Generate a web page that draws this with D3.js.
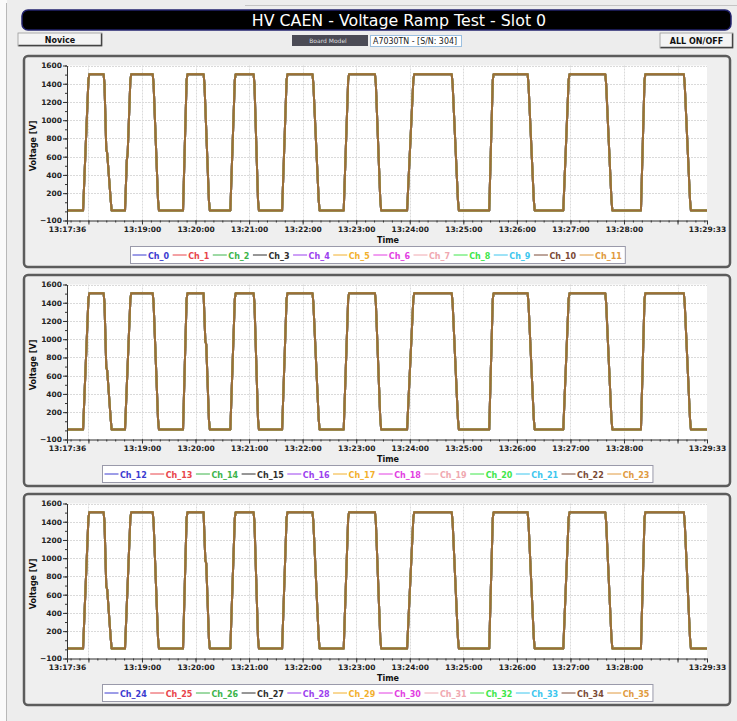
<!DOCTYPE html>
<html>
<head>
<meta charset="utf-8">
<script src="https://cdn.jsdelivr.net/npm/d3@7"></script>
<style>
  body { margin: 0; background: #fff; }
  svg { display: block; font-family: "DejaVu Sans", sans-serif; }
</style>
</head>
<body>
<div id="chart"></div>
<script>
// ---- data ----
const titleText = "HV CAEN - Voltage Ramp Test - Slot 0";
const boardModel = "A7030TN - [S/N: 304]";

const channelsA = ["Ch_0", "Ch_1", "Ch_2", "Ch_3", "Ch_4", "Ch_5", "Ch_6", "Ch_7", "Ch_8", "Ch_9", "Ch_10", "Ch_11"];
const channelsB = ["Ch_12", "Ch_13", "Ch_14", "Ch_15", "Ch_16", "Ch_17", "Ch_18", "Ch_19", "Ch_20", "Ch_21", "Ch_22", "Ch_23"];
const channelsC = ["Ch_24", "Ch_25", "Ch_26", "Ch_27", "Ch_28", "Ch_29", "Ch_30", "Ch_31", "Ch_32", "Ch_33", "Ch_34", "Ch_35"];
const channelColors = ["#3b3bd0", "#e8444a", "#3cb44b", "#2e2e2e", "#9b40ee", "#f2b02c",
                       "#e23ee2", "#f0a8b0", "#3ee64a", "#3cc6ee", "#7a4a36", "#e09a40"];

// panel 1 waveform (all channels overlap)
const timesA = ["13:17:36", "13:17:54", "13:18:00", "13:18:01", "13:18:17", "13:18:18", "13:18:20", "13:18:21", "13:18:25", "13:18:26",
  "13:18:41", "13:18:43", "13:18:44", "13:18:47", "13:18:48", "13:19:12", "13:19:13", "13:19:18", "13:19:19",
  "13:19:46", "13:19:50", "13:19:51", "13:20:09", "13:20:10", "13:20:15", "13:20:16",
  "13:20:39", "13:20:44", "13:20:45", "13:21:05", "13:21:06", "13:21:10", "13:21:11",
  "13:21:37", "13:21:42", "13:21:43", "13:22:11", "13:22:12", "13:22:18", "13:22:19",
  "13:22:46", "13:22:51", "13:22:52", "13:23:21", "13:23:22", "13:23:27", "13:23:28",
  "13:23:57", "13:24:04", "13:24:05", "13:24:47", "13:24:48", "13:24:54", "13:24:55",
  "13:25:29", "13:25:33", "13:25:34", "13:26:12", "13:26:13", "13:26:19", "13:26:20",
  "13:26:52", "13:26:58", "13:26:59", "13:27:39", "13:27:40", "13:27:46", "13:27:47",
  "13:28:19", "13:28:23", "13:28:24", "13:29:07", "13:29:08", "13:29:14", "13:29:15", "13:29:33"];
const voltsA = [10, 10, 1440, 1505, 1505, 1400, 680, 640, 120, 10,
  10, 560, 640, 1440, 1505, 1505, 1400, 120, 10,
  10, 1440, 1505, 1505, 1400, 120, 10,
  10, 1440, 1505, 1505, 1400, 120, 10,
  10, 1440, 1505, 1505, 1400, 120, 10,
  10, 1440, 1505, 1505, 1400, 120, 10,
  10, 1440, 1505, 1505, 1400, 120, 10,
  10, 1440, 1505, 1505, 1400, 120, 10,
  10, 1440, 1505, 1505, 1400, 120, 10,
  10, 1440, 1505, 1505, 1400, 120, 10, 10];

// panels 2 and 3 waveform
const timesB = ["13:17:36", "13:17:54", "13:18:00", "13:18:01", "13:18:17", "13:18:18", "13:18:20", "13:18:21", "13:18:25", "13:18:26",
  "13:18:41", "13:18:47", "13:18:48", "13:19:12", "13:19:13", "13:19:18", "13:19:19",
  "13:19:46", "13:19:50", "13:19:51", "13:20:09", "13:20:11", "13:20:12", "13:20:15", "13:20:16",
  "13:20:39", "13:20:44", "13:20:45", "13:21:05", "13:21:06", "13:21:10", "13:21:11",
  "13:21:37", "13:21:42", "13:21:43", "13:22:11", "13:22:12", "13:22:18", "13:22:19",
  "13:22:46", "13:22:51", "13:22:52", "13:23:21", "13:23:22", "13:23:27", "13:23:28",
  "13:23:57", "13:24:04", "13:24:05", "13:24:47", "13:24:48", "13:24:54", "13:24:55",
  "13:25:29", "13:25:33", "13:25:34", "13:26:12", "13:26:13", "13:26:19", "13:26:20",
  "13:26:52", "13:26:58", "13:26:59", "13:27:39", "13:27:40", "13:27:46", "13:27:47",
  "13:28:19", "13:28:23", "13:28:24", "13:29:07", "13:29:08", "13:29:14", "13:29:15", "13:29:33"];
const voltsB = [10, 10, 1440, 1505, 1505, 1400, 690, 660, 120, 10,
  10, 1440, 1505, 1505, 1400, 120, 10,
  10, 1440, 1505, 1505, 975, 945, 120, 10,
  10, 1440, 1505, 1505, 1400, 120, 10,
  10, 1440, 1505, 1505, 1400, 120, 10,
  10, 1440, 1505, 1505, 1400, 120, 10,
  10, 1440, 1505, 1505, 1400, 120, 10,
  10, 1440, 1505, 1505, 1400, 120, 10,
  10, 1440, 1505, 1505, 1400, 120, 10,
  10, 1440, 1505, 1505, 1400, 120, 10, 10];

const yTickValues = [-100, 200, 400, 600, 800, 1000, 1200, 1400, 1600];
const xMajorTicks = ["13:17:36", "13:18:00", "13:19:00", "13:20:00", "13:21:00", "13:22:00", "13:23:00",
  "13:24:00", "13:25:00", "13:26:00", "13:27:00", "13:28:00", "13:29:00", "13:29:33"];
const xLabelled = ["13:17:36", "13:19:00", "13:20:00", "13:21:00", "13:22:00", "13:23:00",
  "13:24:00", "13:25:00", "13:26:00", "13:27:00", "13:28:00", "13:29:33"];

// ---- layout ----
const svgWidth = 737;
const svgHeight = 721;
const panelLeft = 24, panelRight = 730, panelHeight = 211;
const panelTops = [56, 275, 494];
const plotLeft = 67, plotRight = 707;
const plotTopOff = 9.5, plotBottomOff = 164.5;

const svg = d3.select("#chart")
  .append("svg")
  .attr("width", svgWidth)
  .attr("height", svgHeight);

svg.append("rect").attr("width", svgWidth).attr("height", svgHeight).attr("fill", "#fafafa");
svg.append("rect").attr("x", 7).attr("y", 0).attr("width", svgWidth - 7).attr("height", svgHeight).attr("fill", "#ededed");
svg.append("line").attr("x1", 6.5).attr("x2", 6.5).attr("y1", 3).attr("y2", svgHeight)
  .attr("stroke", "#b8b8b8");
svg.append("line").attr("x1", 245).attr("x2", svgWidth).attr("y1", 5.5).attr("y2", 5.5)
  .attr("stroke", "#c4c4c4");

// header bar
svg.append("rect")
  .attr("x", 22).attr("y", 10).attr("width", 709).attr("height", 20).attr("rx", 6)
  .attr("fill", "#000").attr("stroke", "#23236e").attr("stroke-width", 1.5);
svg.append("text")
  .attr("x", 399).attr("y", 25.5)
  .attr("text-anchor", "middle")
  .attr("fill", "#fff")
  .style("font-size", "15.8px")
  .text(titleText);

// buttons
function button(x, y, w, h, label) {
  const g = svg.append("g");
  g.append("rect").attr("x", x).attr("y", y).attr("width", w).attr("height", h)
    .attr("fill", "#f4f4f4").attr("stroke", "#9a9a9a").attr("stroke-width", 0.8);
  g.append("path")
    .attr("d", `M${x + 0.5},${y + h - 0.5}H${x + w - 0.5}V${y + 0.5}`)
    .attr("fill", "none").attr("stroke", "#444").attr("stroke-width", 1.4);
  g.append("text").attr("x", x + w / 2).attr("y", y + h / 2 + 3)
    .attr("text-anchor", "middle").attr("fill", "#111")
    .style("font-size", "8px").style("font-weight", "bold")
    .text(label);
}
button(18, 33, 84, 13, "Novice");
button(660, 33, 73, 15, "ALL ON/OFF");

svg.append("rect").attr("x", 292).attr("y", 35).attr("width", 76).attr("height", 11)
  .attr("fill", "#4b4b55");
svg.append("text").attr("x", 328).attr("y", 43).attr("text-anchor", "middle")
  .attr("fill", "#ddd").style("font-size", "6px").text("Board Model");
svg.append("rect").attr("x", 370.5).attr("y", 35.5).attr("width", 91).attr("height", 11)
  .attr("fill", "#fff").attr("stroke", "#9cc0e0");
svg.append("text").attr("x", 373).attr("y", 44)
  .attr("fill", "#222").style("font-size", "8.5px")
  .attr("textLength", 84).attr("lengthAdjust", "spacingAndGlyphs")
  .text(boardModel);

// ---- scales ----
function parseTime(s) { return d3.timeParse("%H:%M:%S")(s); }

const x = d3.scaleTime()
  .domain([parseTime("13:17:36"), parseTime("13:29:33")])
  .range([plotLeft, plotRight]);

const lineOrder = [0, 1, 3, 4, 6, 7, 9, 2, 8, 5, 11, 10];
const fmt = d3.timeFormat("%H:%M:%S");

function drawPanel(i, channels, times, volts) {
  const top = panelTops[i];
  const yTop = top + plotTopOff, yBot = top + plotBottomOff;
  const y = d3.scaleLinear().domain([-100, 1600]).range([yBot, yTop]);
  const data = times.map((t, k) => ({ t: parseTime(t), v: volts[k] }));

  const g = svg.append("g");
  g.append("rect")
    .attr("x", panelLeft).attr("y", top).attr("width", panelRight - panelLeft).attr("height", panelHeight)
    .attr("rx", 4)
    .attr("fill", "#efefef").attr("stroke", "#5c5c5c").attr("stroke-width", 2.5);

  g.append("rect")
    .attr("x", plotLeft).attr("y", yTop).attr("width", plotRight - plotLeft).attr("height", yBot - yTop)
    .attr("fill", "#fff");

  // grid
  g.append("g").selectAll("line")
    .data(yTickValues.filter(d => d > 0))
    .join("line")
    .attr("x1", plotLeft).attr("x2", plotRight)
    .attr("y1", d => Math.round(y(d)) + 0.5).attr("y2", d => Math.round(y(d)) + 0.5)
    .attr("stroke", "#dadada").attr("stroke-dasharray", "2,1");
  g.append("g").selectAll("line")
    .data(xMajorTicks.slice(1, -1))
    .join("line")
    .attr("x1", d => Math.round(x(parseTime(d))) + 0.5).attr("x2", d => Math.round(x(parseTime(d))) + 0.5)
    .attr("y1", yTop).attr("y2", yBot)
    .attr("stroke", "#dadada").attr("stroke-dasharray", "2,1");

  // lines
  const clipId = "clip" + i;
  g.append("clipPath").attr("id", clipId)
    .append("rect").attr("x", plotLeft).attr("y", yTop - 2).attr("width", plotRight - plotLeft).attr("height", yBot - yTop + 2);

  const line = d3.line().x(d => x(d.t)).y(d => y(d.v));
  g.append("g").attr("clip-path", `url(#${clipId})`)
    .selectAll("path")
    .data(lineOrder)
    .join("path")
    .attr("d", line(data))
    .attr("fill", "none")
    .attr("stroke", k => channelColors[k])
    .attr("stroke-width", 2)
    .attr("stroke-opacity", 0.62)
    .attr("stroke-linejoin", "round");

  // y axis
  const yMinor = d3.range(-100, 1601, 100);
  g.append("g")
    .attr("transform", `translate(${plotLeft},0)`)
    .call(d3.axisLeft(y).tickValues(yMinor).tickSize(2).tickSizeOuter(0).tickFormat(""))
    .call(a => a.select(".domain").remove())
    .selectAll("line").attr("stroke", "#333");
  const yAx = g.append("g")
    .attr("transform", `translate(${plotLeft},0)`)
    .call(d3.axisLeft(y).tickValues(yTickValues).tickSize(4).tickPadding(1).tickSizeOuter(0)
      .tickFormat(d3.format("d")));
  yAx.select(".domain").attr("stroke", "#333");
  yAx.selectAll("line").attr("stroke", "#333");
  yAx.selectAll("text")
    .attr("fill", "#222")
    .style("font-family", "DejaVu Sans")
    .style("font-size", "7.5px").style("font-weight", "bold");

  // x axis
  const minorTicks = d3.timeSecond.every(10).range(parseTime("13:17:40"), parseTime("13:29:33"));
  g.append("g")
    .attr("transform", `translate(0,${yBot})`)
    .call(d3.axisBottom(x).tickValues(minorTicks).tickSize(2).tickSizeOuter(0).tickFormat(""))
    .call(a => a.select(".domain").remove())
    .selectAll("line").attr("stroke", "#333");
  const xAx = g.append("g")
    .attr("transform", `translate(0,${yBot})`)
    .call(d3.axisBottom(x)
      .tickValues(xMajorTicks.map(parseTime))
      .tickSize(4).tickPadding(2).tickSizeOuter(0)
      .tickFormat(d => xLabelled.includes(fmt(d)) ? fmt(d) : ""));
  xAx.select(".domain").attr("stroke", "#333");
  xAx.selectAll("line").attr("stroke", "#333");
  xAx.selectAll("text")
    .attr("fill", "#222")
    .style("font-family", "DejaVu Sans")
    .style("font-size", "7.5px").style("font-weight", "bold");

  // axis titles
  g.append("text")
    .attr("transform", `translate(36,${(yTop + yBot) / 2 + 3}) rotate(-90)`)
    .attr("text-anchor", "middle")
    .style("font-size", "8px").style("font-weight", "bold").attr("fill", "#111")
    .text("Voltage [V]");
  g.append("text")
    .attr("x", 388).attr("y", yBot + 22)
    .attr("text-anchor", "middle")
    .style("font-size", "8px").style("font-weight", "bold").attr("fill", "#111")
    .text("Time");

  // legend
  const lg = g.append("g");
  const box = lg.append("rect");
  let xpos = 2;
  channels.forEach((name, k) => {
    lg.append("line")
      .attr("x1", xpos).attr("x2", xpos + 14)
      .attr("y1", 8.5).attr("y2", 8.5)
      .attr("stroke", channelColors[k]).attr("stroke-width", 1);
    const t = lg.append("text")
      .attr("x", xpos + 15.5).attr("y", 12)
      .attr("fill", channelColors[k])
      .style("font-size", "8px").style("font-weight", "bold")
      .text(name);
    xpos += 15.5 + t.node().getComputedTextLength() + 3.5;
  });
  const w = xpos;
  box.attr("x", 0).attr("y", 0).attr("width", w).attr("height", 17)
    .attr("fill", "#fff").attr("stroke", "#9a9aaa").attr("stroke-width", 1);
  lg.attr("transform", `translate(${Math.round(377 - w / 2) + 0.5},${top + 190.5})`);
}

drawPanel(0, channelsA, timesA, voltsA);
drawPanel(1, channelsB, timesB, voltsB);
drawPanel(2, channelsC, timesB, voltsB);
</script>
</body>
</html>
